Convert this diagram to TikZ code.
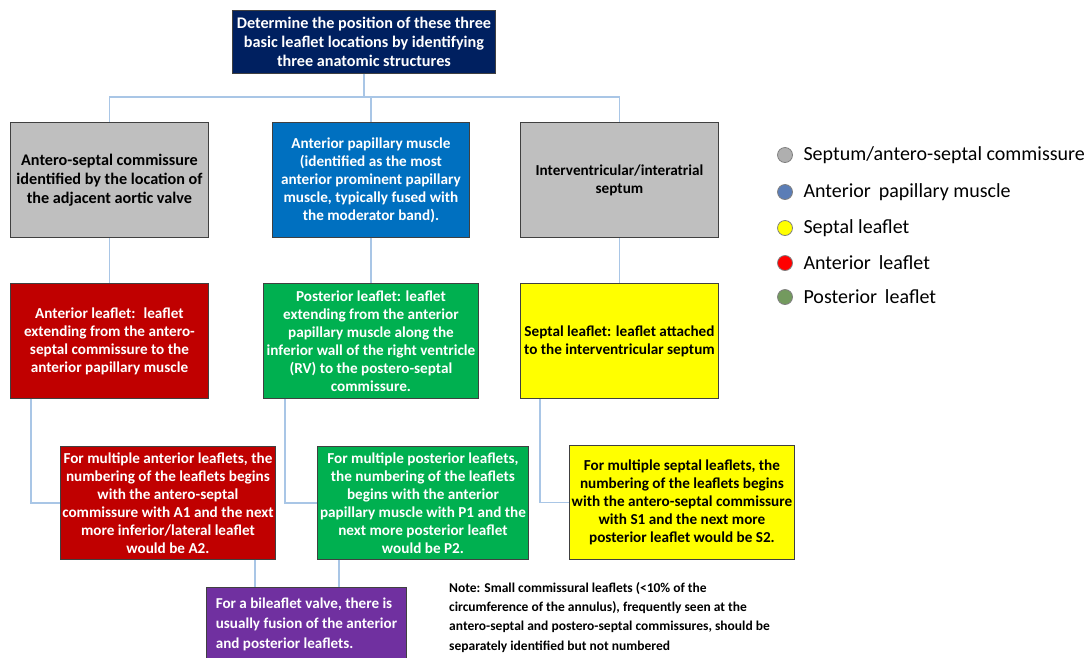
\documentclass[tikz,border=0pt]{standalone}
\usepackage{fontspec}
\setmainfont{Carlito}
\usetikzlibrary{positioning}
\definecolor{navybox}{HTML}{002060}
\definecolor{greybox}{HTML}{BFBFBF}
\definecolor{bluebox}{HTML}{0070C0}
\definecolor{redbox}{HTML}{C00000}
\definecolor{greenbox}{HTML}{00B050}
\definecolor{yellowbox}{HTML}{FFFF00}
\definecolor{purplebox}{HTML}{7030A0}
\definecolor{linkblue}{HTML}{A9C6E6}
\definecolor{edgegrey}{HTML}{404040}
\definecolor{keygrey}{HTML}{AFAFAF}
\definecolor{keyblue}{HTML}{5B7DB6}
\definecolor{keygreen}{HTML}{739A5E}
\begin{document}
\begin{tikzpicture}[x=1pt,y=-1pt,
  box/.style={draw=edgegrey, line width=0.9pt, anchor=north west, align=center, inner sep=1pt,
    font=\bfseries\fontsize{15.2}{18}\selectfont},
  bigtext/.style={font=\bfseries\fontsize{16.2}{19}\selectfont},
  conn/.style={draw=linkblue, line width=1.6pt},
  key/.style={circle, draw=gray, line width=0.8pt, minimum size=15, inner sep=0pt},
  keytext/.style={anchor=west, font=\fontsize{20}{22}\selectfont}]
  \clip (0,0) rectangle (1092,657);

  % top box
  \node[box, bigtext, fill=navybox, text=white, minimum width=263, minimum height=63] (top) at (232,10)
    {Determine the position of these three\\basic leaflet locations by identifying\\three anatomic structures};

  % anatomic structures
  \node[box, bigtext, fill=greybox, minimum width=198, minimum height=115] (septcomm) at (10,122)
    {Antero-septal commissure\\identified by the location of\\the adjacent aortic valve};
  \node[box, fill=bluebox, text=white, minimum width=197, minimum height=115] (papmuscle) at (272,122)
    {Anterior papillary muscle\\(identified as the most\\anterior prominent papillary\\muscle, typically fused with\\the moderator band).};
  \node[box, fill=greybox, minimum width=198, minimum height=115] (septum) at (520,122)
    {Interventricular/interatrial\\septum};

  % leaflets
  \node[box, fill=redbox, text=white, minimum width=198, minimum height=115] (antleaf) at (10,283)
    {Anterior leaflet:~ leaflet\\extending from the antero-\\septal commissure to the\\anterior papillary muscle};
  \node[box, fill=greenbox, text=white, minimum width=215, minimum height=115] (postleaf) at (263,283)
    {Posterior leaflet: leaflet\\extending from the anterior\\papillary muscle along the\\inferior wall of the right ventricle\\(RV) to the postero-septal\\commissure.};
  \node[box, fill=yellowbox, minimum width=198, minimum height=115] (septleaf) at (520,283)
    {Septal leaflet: leaflet attached\\to the interventricular septum};

  % numbering
  \node[box, fill=redbox, text=white, minimum width=215, minimum height=113] (antnum) at (60,446)
    {For multiple anterior leaflets, the\\numbering of the leaflets begins\\with the antero-septal\\commissure with A1 and the next\\more inferior/lateral leaflet\\would be A2.};
  \node[box, fill=greenbox, text=white, minimum width=211, minimum height=113] (postnum) at (317,446)
    {For multiple posterior leaflets,\\the numbering of the leaflets\\begins with the anterior\\papillary muscle with P1 and the\\next more posterior leaflet\\would be P2.};
  \node[box, fill=yellowbox, minimum width=225, minimum height=114] (septnum) at (569,445)
    {For multiple septal leaflets, the\\numbering of the leaflets begins\\with the antero-septal commissure\\with S1 and the next more\\posterior leaflet would be S2.};

  % runs off the bottom edge
  \node[box, fill=purplebox, text=white, align=left, inner xsep=6pt, inner ysep=8pt, minimum width=200,
    minimum height=92, font=\bfseries\fontsize{15.1}{20}\selectfont] (bileaf) at (206,587)
    {For a bileaflet valve, there is\\usually fusion of the anterior\\and posterior leaflets.\\\mbox{}};

  \node[anchor=north west, align=left, inner sep=0pt, font=\bfseries\fontsize{13.5}{19.3}\selectfont] (note) at (449,582)
    {Note: Small commissural leaflets (<10\% of the\\circumference of the annulus), frequently seen at the\\antero-septal and postero-septal commissures, should be\\separately identified but not numbered};

  % connectors
  \coordinate (bus) at (0,97);
  \draw[conn] (top.south) -- (top.south |- bus);
  \draw[conn] (septcomm.north) |- (bus -| septum.north) -- (septum.north);
  \draw[conn] (bus -| papmuscle.north) -- (papmuscle.north);
  \draw[conn] (septcomm.south) -- (antleaf.north);
  \draw[conn] (papmuscle.south) -- (postleaf.north);
  \draw[conn] (septum.south) -- (septleaf.north);
  \draw[conn] ([xshift=21]antleaf.south west) |- (antnum.west);
  \draw[conn] ([xshift=22]postleaf.south west) |- (postnum.west);
  \draw[conn] ([xshift=20]septleaf.south west) |- (septnum.west);
  \draw[conn] ([xshift=-21]antnum.south east) coordinate (a) -- (a |- bileaf.north);
  \draw[conn] ([xshift=22]postnum.south west) coordinate (b) -- (b |- bileaf.north);

  % legend
  \node[key, fill=keygrey] (k1) at (785,155) {};
  \node[keytext] (t1) at (800,155) {Septum/antero-septal commissure};
  \node[key, fill=keyblue] (k2) at (785,192) {};
  \node[keytext] (t2) at (800,192) {Anterior\, papillary muscle};
  \node[key, fill=yellowbox] (k3) at (785,228) {};
  \node[keytext] (t3) at (800,228) {Septal leaflet};
  \node[key, fill=red] (k4) at (785,263) {};
  \node[keytext] (t4) at (800,263) {Anterior\, leaflet};
  \node[key, fill=keygreen] (k5) at (785,297) {};
  \node[keytext] (t5) at (800,297) {Posterior\, leaflet};
\end{tikzpicture}
\end{document}
